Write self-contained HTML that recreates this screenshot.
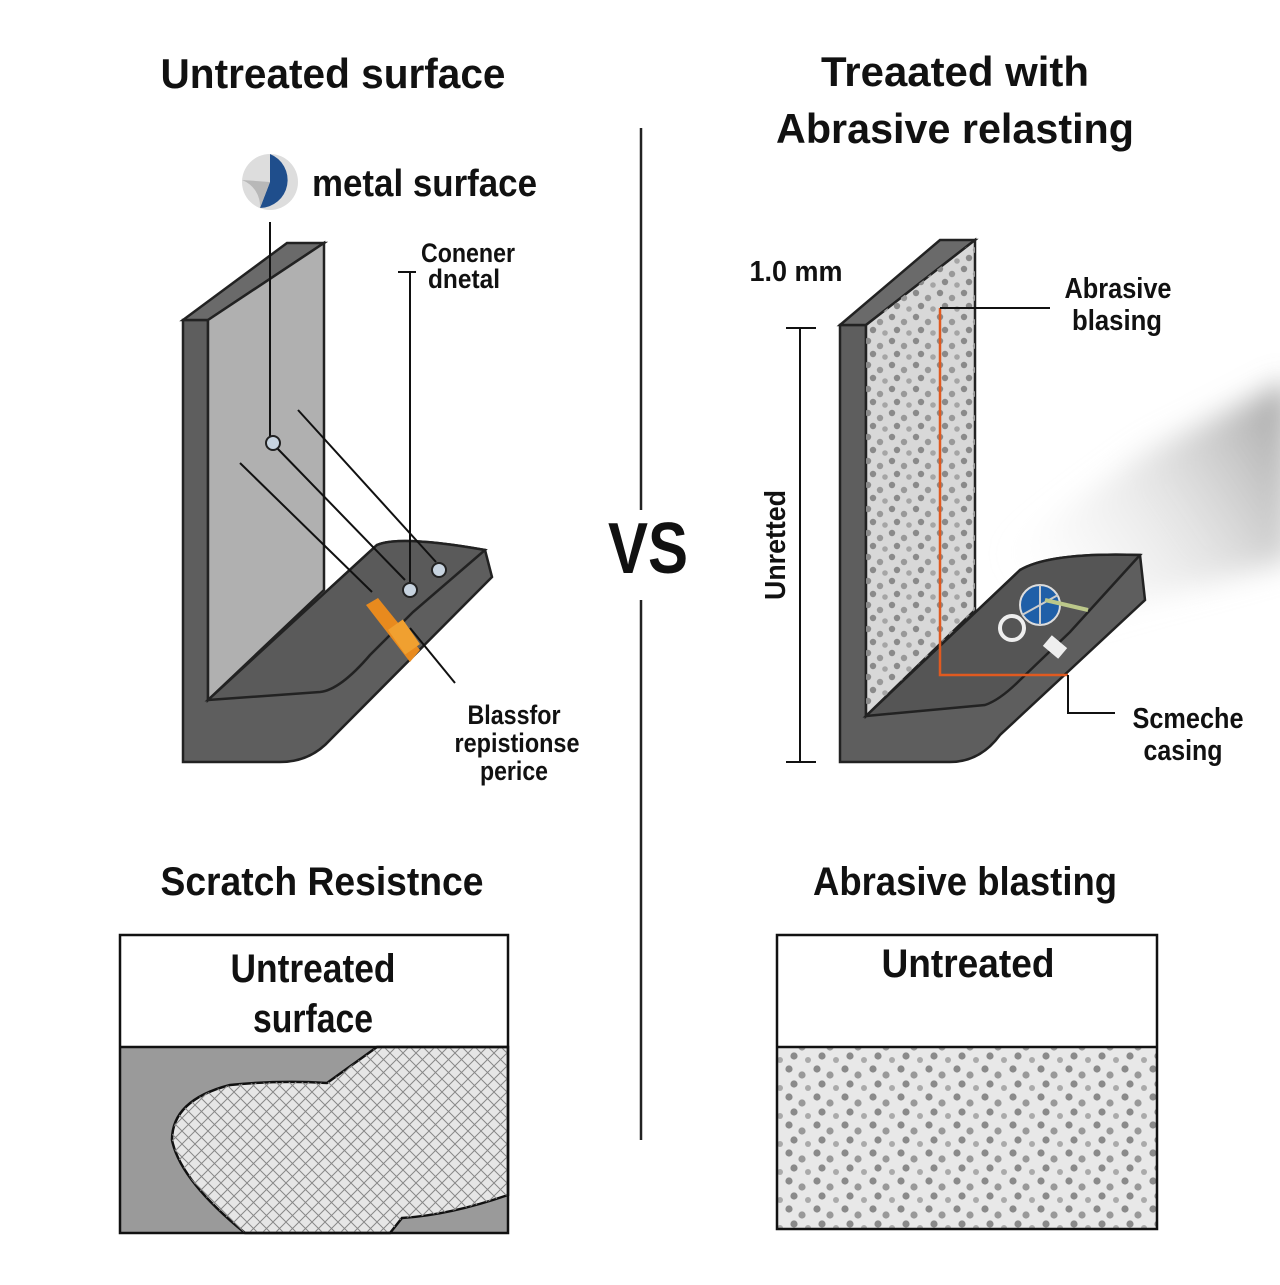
<!DOCTYPE html>
<html><head><meta charset="utf-8"><style>
body{margin:0;background:#fff;}
svg text{font-family:"Liberation Sans",sans-serif;font-weight:bold;fill:#111;}
</style></head><body>
<svg width="1280" height="1280" viewBox="0 0 1280 1280" xmlns="http://www.w3.org/2000/svg">
<defs>
<pattern id="dots" width="24" height="24" patternUnits="userSpaceOnUse">
<circle cx="4" cy="5" r="3.2" fill="#8a8a8a"/><circle cx="16" cy="10" r="3.2" fill="#999"/><circle cx="9" cy="18" r="3.2" fill="#8a8a8a"/><circle cx="21" cy="21" r="2.8" fill="#a5a5a5"/>
</pattern>
<pattern id="dots2" width="28" height="28" patternUnits="userSpaceOnUse">
<circle cx="5" cy="5" r="3.6" fill="#8a8a8a"/><circle cx="18" cy="11" r="3.6" fill="#999"/><circle cx="10" cy="20" r="3.6" fill="#8a8a8a"/><circle cx="24" cy="24" r="3" fill="#aaa"/>
</pattern>
<pattern id="hatch" width="13" height="13" patternUnits="userSpaceOnUse">
<path d="M0 0L13 13M13 0L0 13" stroke="#888" stroke-width="1"/>
</pattern>
<linearGradient id="spray" x1="1" y1="0" x2="0" y2="0.6">
<stop offset="0" stop-color="#888" stop-opacity=".8"/><stop offset=".5" stop-color="#ccc" stop-opacity=".5"/><stop offset="1" stop-color="#eee" stop-opacity="0"/>
</linearGradient>
<filter id="blur"><feGaussianBlur stdDeviation="14"/></filter>
</defs>

<text x="333" y="88" font-size="42" text-anchor="middle" textLength="345" lengthAdjust="spacingAndGlyphs">Untreated surface</text>
<text x="955" y="86" font-size="42" text-anchor="middle" textLength="268" lengthAdjust="spacingAndGlyphs">Treaated with</text>
<text x="955" y="143" font-size="42" text-anchor="middle" textLength="358" lengthAdjust="spacingAndGlyphs">Abrasive relasting</text>

<line x1="641" y1="128" x2="641" y2="510" stroke="#222" stroke-width="2.5"/>
<line x1="641" y1="600" x2="641" y2="1140" stroke="#222" stroke-width="2.5"/>
<text x="648" y="573" font-size="72" text-anchor="middle" textLength="80" lengthAdjust="spacingAndGlyphs">VS</text>

<circle cx="270" cy="182" r="28" fill="#ddd"/>
<path d="M270 182 L270 154 A28 28 0 0 1 260 208 Z" fill="#1f4e8c"/>
<path d="M270 182 L242 180 A28 28 0 0 1 260 208 Z" fill="#b8b8b8"/>
<text x="312" y="196" font-size="38" textLength="225" lengthAdjust="spacingAndGlyphs">metal surface</text>

<!-- left L -->
<path d="M183 320 L208 320 L208 700 L377 545 Q400 535 485 550 L492 577 L330 740 Q310 762 280 762 L183 762 Z" fill="#5e5e5e" stroke="#222" stroke-width="2.5"/>
<path d="M183 320 L287 243 L324 243 L208 320 Z" fill="#6a6a6a" stroke="#222" stroke-width="2.5"/>
<path d="M208 320 L324 243 L324 590 L208 700 Z" fill="#b0b0b0" stroke="#222" stroke-width="2.5"/>
<path d="M208 700 L377 545 Q400 535 485 550 L413 612 L370 655 Q340 690 320 692 Z" fill="#5a5a5a" stroke="#222" stroke-width="2.5"/>
<line x1="270" y1="222" x2="270" y2="440" stroke="#111" stroke-width="2"/>
<line x1="276" y1="447" x2="405" y2="580" stroke="#111" stroke-width="2"/>
<line x1="298" y1="410" x2="436" y2="562" stroke="#111" stroke-width="2"/>
<line x1="240" y1="463" x2="372" y2="592" stroke="#111" stroke-width="2"/>
<line x1="410" y1="272" x2="410" y2="582" stroke="#111" stroke-width="2"/>
<line x1="398" y1="272" x2="416" y2="272" stroke="#111" stroke-width="2"/>
<line x1="410" y1="628" x2="455" y2="683" stroke="#111" stroke-width="2"/>
<circle cx="273" cy="443" r="7" fill="#c8d4e0" stroke="#222" stroke-width="2"/>
<circle cx="410" cy="590" r="7" fill="#c8d4e0" stroke="#222" stroke-width="2"/>
<circle cx="439" cy="570" r="7" fill="#c8d4e0" stroke="#222" stroke-width="2"/>
<path d="M366 605 L378 598 L420 650 L410 662 Z" fill="#e88a1e"/>
<rect x="395" y="622" width="18" height="30" fill="#f0a030" transform="rotate(-35 404 637)"/>
<text x="468" y="262" font-size="27" text-anchor="middle" textLength="94" lengthAdjust="spacingAndGlyphs">Conener</text>
<text x="464" y="288" font-size="27" text-anchor="middle" textLength="72" lengthAdjust="spacingAndGlyphs">dnetal</text>
<text x="514" y="724" font-size="27" text-anchor="middle" textLength="93" lengthAdjust="spacingAndGlyphs">Blassfor</text>
<text x="517" y="752" font-size="27" text-anchor="middle" textLength="125" lengthAdjust="spacingAndGlyphs">repistionse</text>
<text x="514" y="780" font-size="27" text-anchor="middle" textLength="68" lengthAdjust="spacingAndGlyphs">perice</text>

<!-- right L -->
<path d="M1290 380 L1290 560 L1150 600 L1000 650 L990 560 L1150 450 Z" fill="url(#spray)" filter="url(#blur)"/>
<path d="M840 325 L866 325 L866 716 L1020 570 Q1050 552 1140 555 L1145 600 L1000 735 Q980 762 950 762 L840 762 Z" fill="#5e5e5e" stroke="#222" stroke-width="2.5"/>
<path d="M840 325 L940 240 L975 240 L866 325 Z" fill="#6a6a6a" stroke="#222" stroke-width="2.5"/>
<path d="M866 325 L975 240 L975 610 L866 716 Z" fill="#d8d8d8" stroke="#222" stroke-width="2.5"/>
<path d="M866 325 L975 240 L975 610 L866 716 Z" fill="url(#dots)"/>
<path d="M866 716 L1020 570 Q1050 552 1140 555 L1070 632 L1020 680 Q1000 700 985 705 Z" fill="#555" stroke="#222" stroke-width="2.5"/>
<path d="M940 308 L940 675 L1068 675" fill="none" stroke="#e05a20" stroke-width="2.5"/>
<line x1="940" y1="308" x2="1050" y2="308" stroke="#111" stroke-width="2"/>
<circle cx="1040" cy="605" r="20" fill="#1f5fa8" stroke="#ddd" stroke-width="2"/>
<path d="M1040 585 V625 M1022 615 L1058 595" stroke="#ccc" stroke-width="2"/>
<circle cx="1012" cy="628" r="12" fill="none" stroke="#eee" stroke-width="4"/>
<line x1="1045" y1="600" x2="1088" y2="610" stroke="#bcc88a" stroke-width="4"/>
<rect x="1045" y="640" width="20" height="14" fill="#eee" transform="rotate(40 1055 647)"/>
<path d="M1068 675 L1068 713 L1115 713" fill="none" stroke="#111" stroke-width="2"/>
<line x1="800" y1="328" x2="800" y2="762" stroke="#111" stroke-width="2"/>
<line x1="786" y1="328" x2="816" y2="328" stroke="#111" stroke-width="2"/>
<line x1="786" y1="762" x2="816" y2="762" stroke="#111" stroke-width="2"/>
<text x="796" y="281" font-size="29" text-anchor="middle" textLength="93" lengthAdjust="spacingAndGlyphs">1.0 mm</text>
<text transform="translate(785 545) rotate(-90)" font-size="29" text-anchor="middle" textLength="110" lengthAdjust="spacingAndGlyphs">Unretted</text>
<text x="1118" y="298" font-size="29" text-anchor="middle" textLength="107" lengthAdjust="spacingAndGlyphs">Abrasive</text>
<text x="1117" y="330" font-size="29" text-anchor="middle" textLength="90" lengthAdjust="spacingAndGlyphs">blasing</text>
<text x="1188" y="728" font-size="29" text-anchor="middle" textLength="111" lengthAdjust="spacingAndGlyphs">Scmeche</text>
<text x="1183" y="760" font-size="29" text-anchor="middle" textLength="79" lengthAdjust="spacingAndGlyphs">casing</text>

<!-- bottom left -->
<text x="322" y="895" font-size="40" text-anchor="middle" textLength="323" lengthAdjust="spacingAndGlyphs">Scratch Resistnce</text>
<rect x="120" y="1047" width="388" height="186" fill="#9a9a9a"/>
<path d="M377 1047 L327 1083 Q280 1080 230 1085 Q172 1100 172 1140 Q180 1180 245 1233 L390 1233 L402 1218 Q450 1215 508 1195 L508 1047 Z" fill="#e6e6e6" stroke="#111" stroke-width="2.5"/>
<path d="M377 1047 L327 1083 Q280 1080 230 1085 Q172 1100 172 1140 Q180 1180 245 1233 L390 1233 L402 1218 Q450 1215 508 1195 L508 1047 Z" fill="url(#hatch)"/>
<rect x="120" y="935" width="388" height="298" fill="none" stroke="#111" stroke-width="2.5"/>
<line x1="120" y1="1047" x2="508" y2="1047" stroke="#111" stroke-width="2.5"/>
<text x="313" y="982" font-size="40" text-anchor="middle" textLength="165" lengthAdjust="spacingAndGlyphs">Untreated</text>
<text x="313" y="1032" font-size="40" text-anchor="middle" textLength="120" lengthAdjust="spacingAndGlyphs">surface</text>

<!-- bottom right -->
<text x="965" y="895" font-size="40" text-anchor="middle" textLength="304" lengthAdjust="spacingAndGlyphs">Abrasive blasting</text>
<rect x="777" y="1047" width="380" height="182" fill="#e8e8e8"/>
<rect x="777" y="1047" width="380" height="182" fill="url(#dots2)"/>
<rect x="777" y="935" width="380" height="294" fill="none" stroke="#111" stroke-width="2.5"/>
<line x1="777" y1="1047" x2="1157" y2="1047" stroke="#111" stroke-width="2.5"/>
<text x="968" y="977" font-size="40" text-anchor="middle" textLength="173" lengthAdjust="spacingAndGlyphs">Untreated</text>
</svg>
</body></html>
